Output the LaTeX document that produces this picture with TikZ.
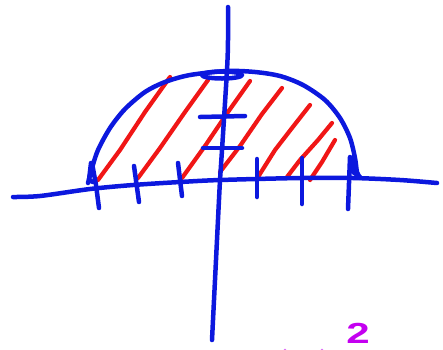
\documentclass[tikz,border=0pt]{standalone}
\usepackage{fontspec}
\setmainfont{Liberation Sans}
\definecolor{pen}{RGB}{12,24,222}
\definecolor{hatch}{RGB}{240,22,22}
\definecolor{violet}{RGB}{196,0,240}
\begin{document}
\begin{tikzpicture}[x=1pt,y=-1pt,
  bluepen/.style={draw=pen,line width=4.5pt,line cap=round,line join=round},
  redpen/.style={draw=hatch,line width=4.2pt,line cap=round,line join=round}]
\useasboundingbox (0,0) rectangle (443,349);
\clip (0,0) rectangle (443,349);
% hatching
\draw[redpen] (98,180) -- (120,150) -- (145,112) -- (170,77);
\draw[redpen] (138,178) -- (160,148) -- (185,112) -- (208,80);
\draw[redpen] (182,178) -- (205,146) -- (228,112) -- (250,81);
\draw[redpen] (220,172) -- (240,146) -- (262,114) -- (282,88);
\draw[redpen] (258,177) -- (275,150) -- (292,128) -- (310,105);
\draw[redpen] (287,177) -- (300,160) -- (318,140) -- (332,123);
\draw[redpen] (310,180) -- (322,162) -- (335,140);
% half disk
\draw[bluepen] plot[smooth] coordinates {(88,183) (92,168) (98,150) (110,128) (125,109) (145,92) (165,82) (190,75) (227,71) (255,72) (280,76) (303,85) (325,100) (340,118) (350,138) (355,158) (357,172) (360,178)};
\draw[bluepen] (91,163) -- (89,180) -- (93,182);
\draw[bluepen] (352,158) -- (353,172) -- (360,177);
\draw[bluepen] (222,75) ellipse [x radius=20, y radius=3.5];
% axes
\draw[bluepen] plot[smooth] coordinates {(13,197) (40,196) (90,189) (133,185) (180,182) (220,180) (300,178) (353,178) (400,180) (437,183)};
\draw[bluepen] plot[smooth] coordinates {(228,7) (228,40) (227,70) (222,150) (220,180) (216,260) (212,340)};
% ticks on y axis
\draw[bluepen] (200,117) -- (245,116);
\draw[bluepen] (203,148) -- (242,148);
% ticks on x axis
\draw[bluepen] (92,163) -- (96,185) -- (99,208);
\draw[bluepen] (134,166) -- (139,202);
\draw[bluepen] (178,163) -- (182,196);
\draw[bluepen] (257,159) -- (257,197);
\draw[bluepen] (302,158) -- (302,204);
\draw[bluepen] (350,157) -- (348,209);
% cut-off expression at the bottom
\node[text=violet,font=\bfseries\fontsize{29}{29}\selectfont,inner sep=0pt,anchor=base,xscale=1.45] (two) at (358,343) {2};
\fill[violet!60] (285,350) circle (1.5pt);
\fill[violet!60] (322,350) circle (1.5pt);
\end{tikzpicture}
\end{document}
